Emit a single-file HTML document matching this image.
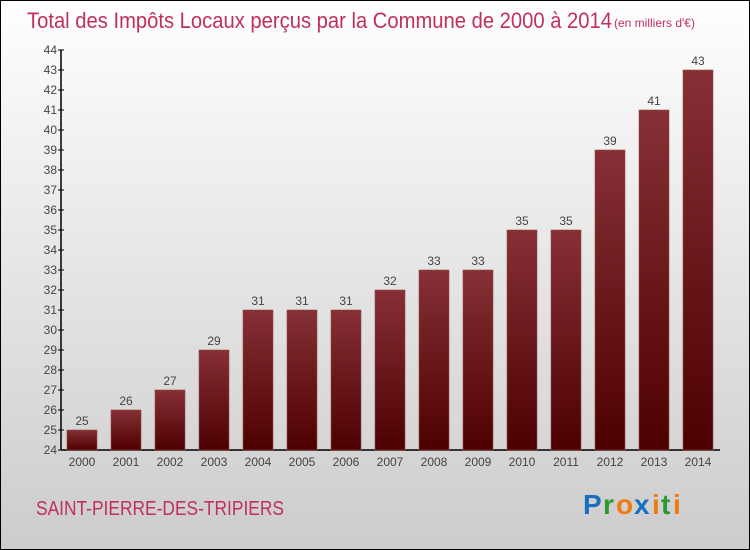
<!DOCTYPE html>
<html><head><meta charset="utf-8"><style>
html,body{margin:0;padding:0;}
body{width:750px;height:550px;overflow:hidden;font-family:"Liberation Sans",sans-serif;}
#wrap{position:absolute;left:0;top:0;width:748px;height:548px;border:1px solid #000;background:linear-gradient(#ffffff,#f4f4f4 20%,#cccccc);}
</style></head><body>
<div id="wrap">
<svg id="chart" width="750" height="550" style="position:absolute;left:-1px;top:-1px">
<defs><linearGradient id="bg" x1="0" y1="0" x2="0" y2="1"><stop offset="0" stop-color="#853035"/><stop offset="1" stop-color="#4e0000"/></linearGradient></defs>
<text x="27" y="28" font-size="22" fill="#c0305a" font-family="Liberation Sans" textLength="585" lengthAdjust="spacingAndGlyphs">Total des Impôts Locaux perçus par la Commune de 2000 à 2014</text>
<text x="614" y="27" font-size="12" fill="#c0305a">(en milliers d'€)</text>
<g id="yaxis"></g>
<g id="bars"></g>
<text x="36" y="515" font-size="20" fill="#c0305a" textLength="248" lengthAdjust="spacingAndGlyphs">SAINT-PIERRE-DES-TRIPIERS</text>
<g font-size="28" font-weight="bold" font-family="Liberation Sans">
<text x="583" y="514" fill="#1a6fc0">P</text><text x="603" y="514" fill="#2a9a30">r</text><text x="616" y="514" fill="#f07a10">o</text><text x="634" y="514" fill="#1a6fc0">x</text><text x="652" y="514" fill="#f07a10">i</text><text x="661" y="514" fill="#2a9a30">t</text><text x="673" y="514" fill="#f07a10">i</text>
</g>
</svg>
</div>
<script>
const categories=["2000","2001","2002","2003","2004","2005","2006","2007","2008","2009","2010","2011","2012","2013","2014"];
const values=[25,26,27,29,31,31,31,32,33,33,35,35,39,41,43];
const yTicks=[24,25,26,27,28,29,30,31,32,33,34,35,36,37,38,39,40,41,42,43,44];
const NS="http://www.w3.org/2000/svg";
const y0=450,yMin=24,yMax=44,yTop=50;
function yScale(v){return y0-(v-yMin)*(y0-yTop)/(yMax-yMin);}
function xScale(i){return 67+i*44;}
function mk(t,a,p){const e=document.createElementNS(NS,t);for(const k in a)e.setAttribute(k,a[k]);p.appendChild(e);return e;}
const ya=document.getElementById('yaxis');
mk('line',{x1:61,y1:yTop,x2:61,y2:y0,stroke:'#000','stroke-width':1.5},ya);
mk('line',{x1:61,y1:y0,x2:720,y2:y0,stroke:'#000','stroke-width':1.5},ya);
yTicks.forEach(v=>{
 const y=yScale(v);
 const l=mk('line',{x1:58,y1:y,x2:64,y2:y,stroke:'#000'},ya);
 
 
 const t=mk('text',{x:57,y:y+4,'font-size':12,fill:'#444','text-anchor':'end'},ya);
 t.textContent=v;
 
 
});
const bg=document.getElementById('bars');
categories.forEach((c,i)=>{
 const x=xScale(i),y=yScale(values[i]);
 const r=mk('rect',{x:x,y:y,width:30,height:y0-y,fill:'url(#bg)',stroke:'#9a4a4a','stroke-width':0.6},bg);
 
 
 const t=mk('text',{x:x+15,y:y-5,'font-size':12,fill:'#444','text-anchor':'middle'},bg);
 t.textContent=values[i];
 
 
 const xl=mk('text',{x:x+15,y:466,'font-size':12,fill:'#444','text-anchor':'middle'},bg);
 xl.textContent=c;
 
 
});
</script>
</body></html>
